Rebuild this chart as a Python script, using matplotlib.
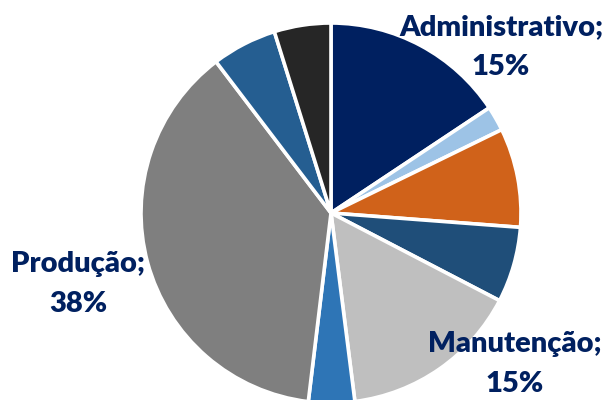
import matplotlib.pyplot as plt

# Slices, clockwise from 12 o'clock
categories = ['Administrativo', 'Outros 1', 'Outros 2', 'Outros 3', 'Manutenção',
              'Outros 4', 'Produção', 'Outros 5', 'Outros 6']
shares = [15.6, 2.1, 8.4, 6.4, 15.3, 3.9, 37.6, 5.5, 4.8]
colors = ['#002060', '#9DC3E6', '#D0621A', '#1F4E79', '#BFBFBF',
          '#2E75B6', '#7F7F7F', '#255E91', '#262626']
shown_labels = ['Administrativo;\n15%', 'Manutenção;\n15%', 'Produção;\n38%']

textColor = '#002060'

fig = plt.figure(figsize=(6.06, 4.0), dpi=100, facecolor='white')
ax = fig.add_axes([0, 0, 1, 1])

# pie center at pixel (331, 213), radius ~190 px
r = 190.0
cx, cy = 331.0, 213.0
ax.pie(shares, colors=colors, startangle=90, counterclock=False, radius=1.0,
       wedgeprops={'edgecolor': 'white', 'linewidth': 2.6})
ax.set_xlim(-cx / r, (606 - cx) / r)
ax.set_ylim(-(400 - cy) / r, cy / r)
ax.set_aspect('equal')
ax.axis('off')

# Labels (pixel positions converted to data units)
def px(x, y):
    return (x - cx) / r, (cy - y) / r

label_pos = [px(501, 47), px(515, 364), px(78, 284)]
for txt, (lx, ly) in zip(shown_labels, label_pos):
    ax.text(lx, ly, txt, ha='center', va='center', color=textColor,
            fontsize=21, fontweight='heavy', family=['Lato', 'DejaVu Sans'],
            linespacing=1.62)

plt.savefig('out.png', dpi=100, facecolor='white')
